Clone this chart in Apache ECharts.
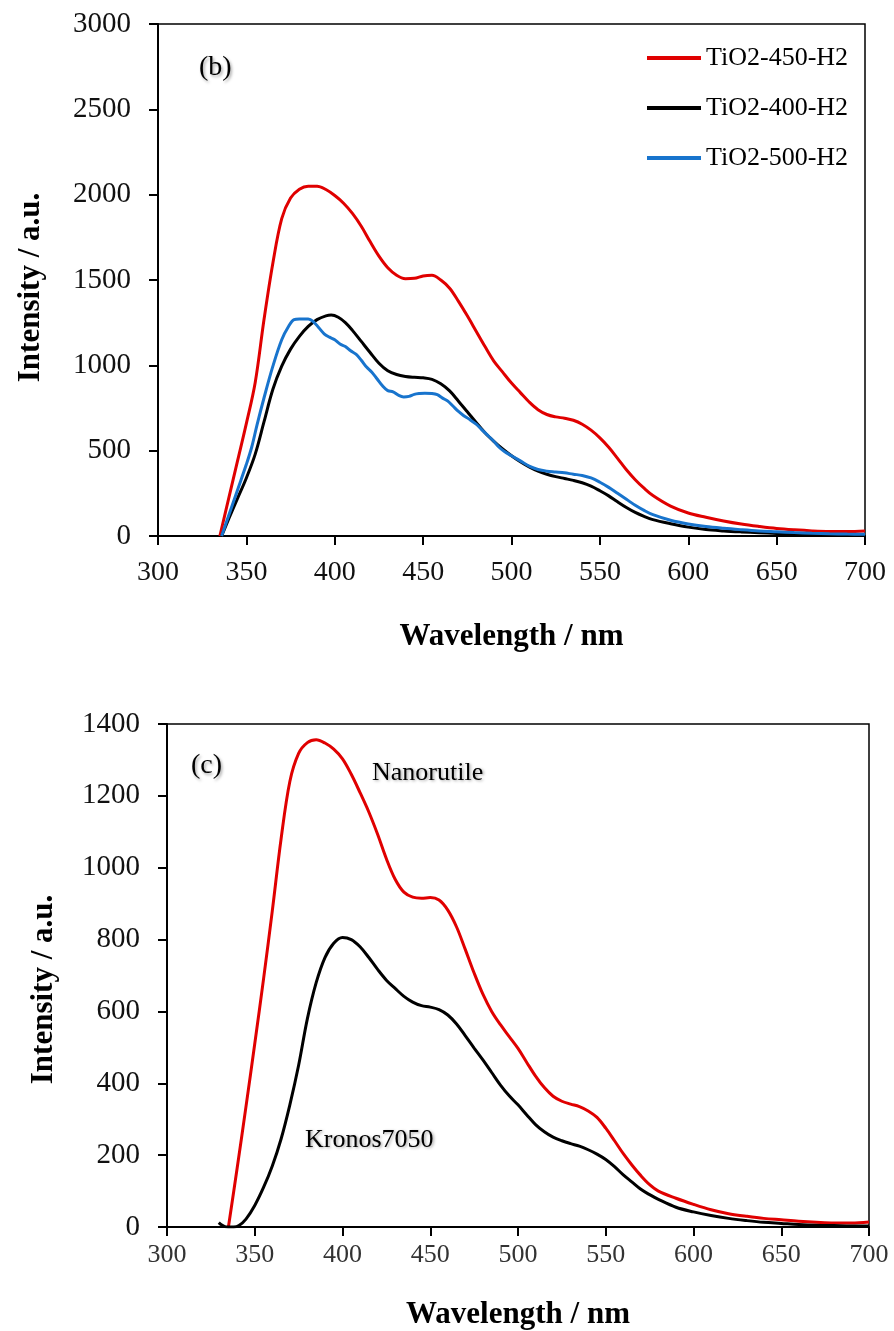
<!DOCTYPE html>
<html>
<head>
<meta charset="utf-8">
<script src="https://cdn.jsdelivr.net/npm/echarts@6/dist/echarts.min.js"></script>
<style>
html,body{margin:0;padding:0;background:#fff;}
#c{width:894px;height:1331px;}
</style>
</head>
<body>
<div id="c"></div>
<script>
// ---------- Data (wavelength nm, intensity a.u.) ----------
// Panel (b)
const tio2_450_wl = [335,340,345,350,355,360,365,370,375,380,385,390,395,400,405,410,415,420,425,430,435,440,445,450,455,460,465,470,475,480,485,490,495,500,505,510,515,520,525,530,535,540,545,550,555,560,565,570,575,580,590,600,610,620,630,640,650,660,670,680,690,700];
const tio2_450_int = [0,220,440,660,900,1270,1600,1860,1980,2032,2050,2050,2030,1995,1950,1890,1815,1725,1640,1572,1528,1508,1510,1524,1528,1500,1452,1375,1290,1200,1110,1025,960,896,840,785,740,712,698,690,678,655,620,575,520,455,388,330,280,237,175,135,110,88,70,56,44,36,30,27,27,30];

const tio2_400_wl = [336,340,345,350,355,360,365,370,375,380,385,390,395,398,402,406,410,415,420,425,430,435,440,445,450,455,460,465,470,475,480,485,490,495,500,505,510,515,520,525,530,535,540,545,550,555,560,565,570,575,580,590,600,610,620,630,640,650,660,670,680,690,700];
const tio2_400_int = [0,100,220,340,480,670,860,995,1095,1170,1228,1268,1290,1295,1282,1250,1205,1140,1075,1012,968,946,935,930,927,918,892,850,790,728,665,605,555,510,470,435,405,380,362,348,337,326,312,292,265,235,200,167,138,115,96,72,52,38,30,24,19,15,11,8,6,5,5];

const tio2_500_wl = [336,340,345,350,353,356,360,365,370,374,377,380,385,388,391,394,397,400,403,406,409,412,415,418,421,424,427,430,433,436,439,442,445,448,451,455,458,461,464,467,470,473,476,480,483,486,490,493,496,500,505,510,515,520,525,530,535,540,545,550,555,560,565,570,575,580,590,600,610,620,630,640,650,660,670,680,690,700];
const tio2_500_int = [0,120,270,420,520,650,810,995,1150,1230,1268,1272,1272,1255,1220,1185,1165,1150,1125,1110,1085,1065,1030,990,960,920,880,852,845,825,815,818,830,835,837,835,828,808,790,760,730,705,685,655,625,595,555,520,495,470,440,410,390,380,375,370,362,355,340,315,285,250,215,180,150,125,92,70,55,45,37,30,25,20,16,13,11,10];

// Panel (c)
const nanorutile_wl = [335,340,345,350,355,360,365,370,375,380,385,390,395,400,405,410,415,420,425,430,435,440,445,450,455,460,465,470,475,480,485,490,495,500,505,510,515,520,525,530,535,540,545,550,555,560,565,570,575,580,590,600,610,620,630,640,650,660,670,680,690,700];
const nanorutile_int = [0,165,335,510,690,880,1080,1240,1318,1348,1356,1347,1330,1303,1260,1209,1155,1093,1025,968,932,918,915,917,910,882,835,772,707,648,600,563,530,497,458,420,388,364,350,342,335,323,305,275,240,204,172,143,118,100,80,63,48,37,30,24,20,16,13,11,11,14];

const kronos_wl = [329.5,331,333,335,338,341,345,350,355,360,365,370,375,380,385,390,395,400,405,410,415,420,425,430,435,440,445,450,455,460,465,470,475,480,485,490,495,500,505,510,515,520,525,530,535,540,545,550,555,560,565,570,575,580,590,600,610,620,630,640,650,660,670,680,690,700];
const kronos_int = [12,6,1,0,0,4,22,60,110,170,245,340,450,580,680,750,790,806,800,780,750,717,687,664,642,626,616,612,605,590,565,532,498,465,430,395,365,340,312,285,265,250,240,232,225,215,203,188,168,145,125,105,90,77,55,42,32,24,18,13,10,7,5,4,3,3];

// Axis ticks
const xMin = 300, xMax = 700, xStep = 50;
const yMaxB = 3000, yStepB = 500;
const yMaxC = 1400, yStepC = 200;

const zip = (a, b) => a.map((v, i) => [v, b[i]]);

const SERIF = '"Liberation Serif", "Times New Roman", serif';
const RED = '#E00000', BLACK = '#000000', BLUE = '#1874CD';

function xAxis(gi, labelMargin, labelColor, labelSize, nameGap) {
  return {
    type: 'value', gridIndex: gi, min: xMin, max: xMax, interval: xStep,
    name: 'Wavelength / nm', nameLocation: 'middle', nameGap: nameGap,
    nameTextStyle: {fontFamily: SERIF, fontWeight: 'bold', fontSize: 31, color: '#000'},
    axisLine: {show: true, onZero: false, lineStyle: {color: '#000', width: 2}},
    axisTick: {show: true, inside: false, length: 9, lineStyle: {color: '#000', width: 2}},
    axisLabel: {fontFamily: SERIF, fontSize: labelSize, color: labelColor, margin: labelMargin,
                formatter: v => String(v)},
    splitLine: {show: false}
  };
}
function yAxis(gi, max, step, nameGap, namePad) {
  return {
    type: 'value', gridIndex: gi, min: 0, max: max, interval: step,
    name: 'Intensity / a.u.', nameLocation: 'middle', nameGap: nameGap,
    nameTextStyle: {fontFamily: SERIF, fontWeight: 'bold', fontSize: 31, color: '#000', padding: [0, namePad, 0, 0]},
    axisLine: {show: true, lineStyle: {color: '#000', width: 2}},
    axisTick: {show: true, inside: false, length: 9, lineStyle: {color: '#000', width: 2}},
    axisLabel: {fontFamily: SERIF, fontSize: 29, color: '#111', margin: 27,
                formatter: v => String(v)},
    splitLine: {show: false}
  };
}
function line(name, data, color, xi, yi) {
  return {
    name: name, type: 'line', xAxisIndex: xi, yAxisIndex: yi,
    data: data, showSymbol: false, symbol: 'none', smooth: 0.35,
    lineStyle: {color: color, width: 3}, itemStyle: {color: color},
    animation: false
  };
}
const annot = (text, x, y, size) => ({
  type: 'text', left: x, top: y, z: 100,
  style: {
    text: text, fontFamily: SERIF, fontSize: size, fill: '#000',
    textShadowColor: 'rgba(0,0,0,0.35)', textShadowBlur: 3,
    textShadowOffsetX: 1.5, textShadowOffsetY: 1.5
  }
});

const chart = echarts.init(document.getElementById('c'), null, {renderer: 'canvas'});
chart.setOption({
  backgroundColor: '#fff',
  animation: false,
  grid: [
    {left: 158, top: 24, width: 707, height: 512, show: true, borderColor: '#000', borderWidth: 1.5, backgroundColor: 'transparent'},
    {left: 167, top: 724, width: 702, height: 507, show: true, borderColor: '#000', borderWidth: 1.5, backgroundColor: 'transparent'}
  ],
  xAxis: [xAxis(0, 23, '#111', 28, 85), xAxis(1, 15, '#333', 26, 72)],
  yAxis: [yAxis(0, yMaxB, yStepB, 112, 15), yAxis(1, yMaxC, yStepC, 108, 28)],
  legend: {
    data: ['TiO2-450-H2', 'TiO2-400-H2', 'TiO2-500-H2'],
    orient: 'vertical', left: 642, top: 38,
    icon: 'rect', itemWidth: 54, itemHeight: 4, itemGap: 20,
    textStyle: {fontFamily: SERIF, fontSize: 26, color: '#000', lineHeight: 30},
    selectedMode: false
  },
  graphic: [
    annot('(b)', 199, 54, 28),
    annot('(c)', 191, 752, 28),
    annot('Nanorutile', 372, 760, 26),
    annot('Kronos7050', 305, 1127, 26)
  ],
  series: [
    line('TiO2-450-H2', zip(tio2_450_wl, tio2_450_int), RED, 0, 0),
    line('TiO2-400-H2', zip(tio2_400_wl, tio2_400_int), BLACK, 0, 0),
    line('TiO2-500-H2', zip(tio2_500_wl, tio2_500_int), BLUE, 0, 0),
    line('Nanorutile', zip(nanorutile_wl, nanorutile_int), RED, 1, 1),
    line('Kronos7050', zip(kronos_wl, kronos_int), BLACK, 1, 1)
  ]
});
</script>
</body>
</html>
